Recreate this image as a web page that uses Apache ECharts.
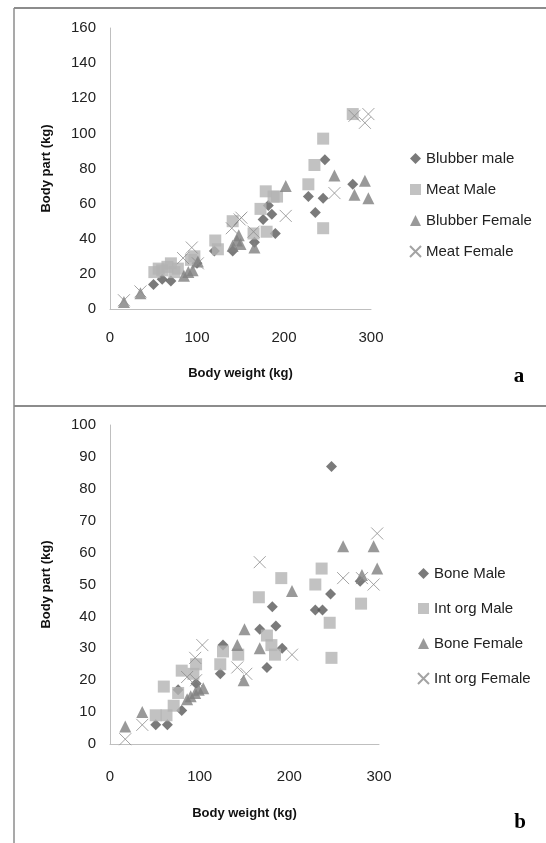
<!DOCTYPE html>
<html><head><meta charset="utf-8">
<script src="https://cdn.jsdelivr.net/npm/echarts@6/dist/echarts.min.js"></script>
<style>html,body{margin:0;padding:0;background:#fff}#c{width:546px;height:843px}</style>
</head><body><div id="c"></div><script>
// ---- Panel a ----
const namesA = ['Blubber male', 'Meat Male', 'Blubber Female', 'Meat Female'];
const blubberMale = [[50,14],[60,17],[70,16],[100,26],[120,33],[141,33],[166,38],[176,51],[182,59],[186,54],[190,43],[228,64],[236,55],[245,63],[247,85],[279,71]];
const meatMale = [[51,21],[56,23],[60,22],[66,24],[70,26],[74,21],[78,23],[93,28],[97,30],[121,39],[124,34],[141,50],[165,43],[173,57],[179,67],[180,44],[188,64],[192,64],[228,71],[235,82],[245,97],[245,46],[279,111]];
const blubberFemale = [[16,4],[35,9],[85,19],[90,21],[95,22],[101,27],[141,36],[146,39],[148,42],[150,37],[166,35],[202,70],[258,76],[281,65],[293,73],[297,63]];
const meatFemale = [[16,5],[35,10],[84,29],[94,35],[101,26],[140,46],[149,51],[151,52],[165,44],[202,53],[258,66],[281,110],[293,106],[297,111]];
// ---- Panel b ----
const namesB = ['Bone Male', 'Int org Male', 'Bone Female', 'Int org Female'];
const boneMale = [[51,6],[64,6],[80,10.5],[76,17],[96,19],[123,22],[126,31],[167,36],[175,24],[181,43],[185,37],[192,30],[229,42],[237,42],[246,47],[247,87],[279,51]];
const intOrgMale = [[51,9],[63,9],[60,18],[71,12],[76,16],[80,23],[93,22],[96,25],[123,25],[126,29],[143,28],[166,46],[175,34],[180,31],[184,28],[191,52],[229,50],[236,55],[245,38],[247,27],[280,44]];
const boneFemale = [[17,5.5],[36,10],[86,14],[90,15],[95,16],[99,17],[104,17.5],[142,31],[150,36],[149,20],[167,30],[203,48],[260,62],[281,53],[294,62],[298,55]];
const intOrgFemale = [[17,1.5],[36,6],[86,21],[95,27],[103,31],[96,20],[142,24],[152,22],[167,57],[203,28],[260,52],[281,52],[294,50],[298,66]];
// axes
const xAxisMax = 300, xAxisStep = 100;
const yMaxA = 160, yStepA = 20;
const yMaxB = 100, yStepB = 10;
const xTitle = 'Body weight (kg)';
const yTitle = 'Body part (kg)';

const FONT = 'Liberation Sans';
const crossPath = 'path://M0,0L10,10M10,0L0,10';
const diamondPath = 'path://M5,0L10,5L5,10L0,5Z';
const styles = [
  {symbol:diamondPath, symbolSize:11, itemStyle:{color:'#595959'}},
  {symbol:'rect', symbolSize:12, itemStyle:{color:'#b3b3b3'}},
  {symbol:'triangle', symbolSize:12, itemStyle:{color:'#808080'}},
  {symbol:crossPath, symbolSize:12, itemStyle:{color:'rgba(0,0,0,0)', borderColor:'#8c8c8c', borderWidth:1}}
];
function mk(name, data, idx, gi){
  return Object.assign({type:'scatter', name:name, data:data, xAxisIndex:gi, yAxisIndex:gi, silent:true}, JSON.parse(JSON.stringify(styles[idx])));
}
function xAx(gi, margin, gap){
  return {gridIndex:gi, type:'value', min:0, max:xAxisMax, interval:xAxisStep,
    axisLine:{show:true, onZero:false, lineStyle:{color:'#bfbfbf', width:1}}, axisTick:{show:false}, splitLine:{show:false},
    axisLabel:{color:'#222', fontFamily:FONT, fontSize:15, margin:margin},
    name:xTitle, nameLocation:'middle', nameGap:gap, nameTextStyle:{fontFamily:FONT, fontWeight:'bold', fontSize:13, color:'#111'}};
}
function yAx(gi, max, step){
  return {gridIndex:gi, type:'value', min:0, max:max, interval:step,
    axisLine:{show:true, lineStyle:{color:'#bfbfbf', width:1}}, axisTick:{show:false}, splitLine:{show:false},
    axisLabel:{color:'#222', fontFamily:FONT, fontSize:15, margin:14},
    name:yTitle, nameLocation:'middle', nameGap:57, nameTextStyle:{fontFamily:FONT, fontWeight:'bold', fontSize:13, color:'#111'}};
}
const chart = echarts.init(document.getElementById('c'), null, {renderer:'canvas'});
chart.setOption({
  animation:false,
  backgroundColor:'#fff',
  grid:[
    {left:110, top:28, width:261, height:281},
    {left:110, top:425, width:269, height:319}
  ],
  xAxis:[xAx(0, 21, 58), xAx(1, 25, 63)],
  yAxis:[yAx(0, yMaxA, yStepA), yAx(1, yMaxB, yStepB)],
  legend:[
    {data:namesA, orient:'vertical', left:409, top:151, padding:0, itemWidth:11, itemHeight:11, itemGap:16,
      textStyle:{fontFamily:FONT, fontSize:15, color:'#222'}, selectedMode:false},
    {data:namesB, orient:'vertical', left:417, top:566, padding:0, itemWidth:11, itemHeight:11, itemGap:20,
      textStyle:{fontFamily:FONT, fontSize:15, color:'#222'}, selectedMode:false}
  ],
  series:[
    mk(namesA[0], blubberMale, 0, 0),
    mk(namesA[1], meatMale, 1, 0),
    mk(namesA[2], blubberFemale, 2, 0),
    mk(namesA[3], meatFemale, 3, 0),
    mk(namesB[0], boneMale, 0, 1),
    mk(namesB[1], intOrgMale, 1, 1),
    mk(namesB[2], boneFemale, 2, 1),
    mk(namesB[3], intOrgFemale, 3, 1)
  ],
  graphic:[
    {type:'line', shape:{x1:14, y1:8, x2:546, y2:8}, style:{stroke:'#8c8c8c', lineWidth:2}},
    {type:'line', shape:{x1:14, y1:8, x2:14, y2:843}, style:{stroke:'#8c8c8c', lineWidth:1.5}},
    {type:'line', shape:{x1:14, y1:406, x2:546, y2:406}, style:{stroke:'#8c8c8c', lineWidth:2}},
    {type:'text', x:519, y:377, style:{text:'a', font:'bold 21px "Liberation Serif"', fill:'#000', align:'center', verticalAlign:'middle'}},
    {type:'text', x:520, y:823, style:{text:'b', font:'bold 21px "Liberation Serif"', fill:'#000', align:'center', verticalAlign:'middle'}}
  ]
});
</script></body></html>
